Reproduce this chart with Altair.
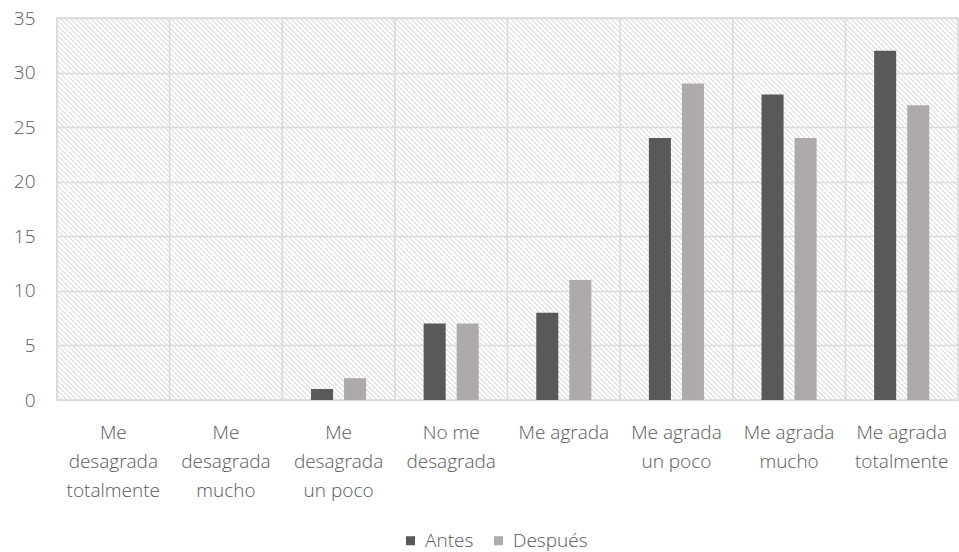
import altair as alt
import pandas as pd

categories = [
    "Me|desagrada|totalmente",
    "Me|desagrada|mucho",
    "Me|desagrada|un poco",
    "No me|desagrada",
    "Me agrada",
    "Me agrada|un poco",
    "Me agrada|mucho",
    "Me agrada|totalmente",
]
series = ["Antes", "Después"]
antes = [0, 0, 1, 7, 8, 24, 28, 32]
despues = [0, 0, 2, 7, 11, 29, 24, 27]
y_ticks = [0, 5, 10, 15, 20, 25, 30, 35]

rows = []
for c, a, d in zip(categories, antes, despues):
    rows.append({"cat": c, "serie": "Antes", "valor": a})
    rows.append({"cat": c, "serie": "Después", "valor": d})
df = pd.DataFrame(rows)

W, H = 901, 382
FONT = "Open Sans"
FS = 19
FW = 300
GRID = "#d9d9d9"
TEXT = "#595959"
HATCH = "#dcdcdc"

xscale = alt.Scale(domain=categories, paddingInner=0, paddingOuter=0)

# Background hatching (decorative diagonal lines)
hatch = (
    alt.Chart(alt.sequence(start=-H, stop=W, step=5, as_="k"))
    .transform_calculate(x1=f"datum.k + {H}", y0="0", y1=f"{H}")
    .mark_rule(color=HATCH, strokeWidth=1.1, clip=True)
    .encode(
        x=alt.X("k:Q", scale=None, axis=None),
        x2="x1:Q",
        y=alt.Y("y0:Q", scale=None, axis=None),
        y2="y1:Q",
    )
)

# Vertical grid lines at category boundaries
vgrid = (
    alt.Chart(pd.DataFrame({"cat": categories}))
    .mark_rule(color=GRID, strokeWidth=1.5)
    .encode(x=alt.X("cat:N", scale=xscale, sort=categories, bandPosition=0, axis=None))
)

bars = (
    alt.Chart(df)
    .mark_bar()
    .encode(
        x=alt.X(
            "cat:N",
            scale=xscale,
            sort=categories,
            title=None,
            axis=alt.Axis(
                labelExpr="split(datum.label, '|')",
                labelAngle=0,
                labelFont=FONT,
                labelFontSize=FS,
                labelFontWeight=FW,
                labelColor=TEXT,
                labelLineHeight=29,
                labelPadding=23,
                labelBaseline="top",
                ticks=False,
                domain=False,
                grid=False,
            ),
        ),
        xOffset=alt.XOffset(
            "serie:N", sort=series, scale=alt.Scale(domain=series, paddingInner=0.333, paddingOuter=0.87)
        ),
        y=alt.Y(
            "valor:Q",
            scale=alt.Scale(domain=[0, 35], nice=False),
            title=None,
            axis=alt.Axis(
                values=y_ticks,
                labelFont=FONT,
                labelFontSize=FS,
                labelFontWeight=FW,
                labelColor=TEXT,
                labelPadding=22,
                ticks=False,
                domain=False,
                grid=True,
                gridColor=GRID,
                gridWidth=1.5,
            ),
        ),
        color=alt.Color(
            "serie:N",
            sort=series,
            scale=alt.Scale(domain=series, range=["#595959", "#aeaaaa"]),
            legend=alt.Legend(
                title=None,
                orient="none",
                direction="horizontal",
                legendX=344,
                legendY=513,
                symbolType="square",
                symbolSize=81,
                symbolStrokeWidth=0,
                labelFont=FONT,
                labelFontSize=FS,
                labelFontWeight=FW,
                labelColor=TEXT,
                columnPadding=15,
                labelOffset=5,
            ),
        ),
    )
)

chart = (
    alt.layer(hatch, vgrid, bars)
    .resolve_scale(x="independent", y="independent")
    .properties(
        width=W,
        height=H,
        autosize=alt.AutoSizeParams(type="none"),
        padding={"left": 57, "top": 18, "right": 1, "bottom": 152},
        background="white",
    )
    .configure_view(stroke=GRID, strokeWidth=1.5)
)

chart.save("out.html", embed_options={"renderer": "svg", "actions": False})
